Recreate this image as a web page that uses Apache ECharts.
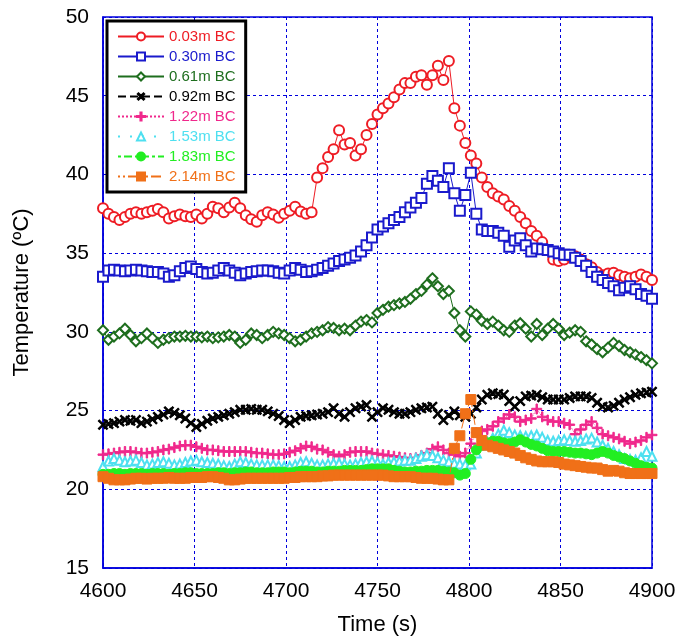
<!DOCTYPE html>
<html><head><meta charset="utf-8">
<script src="https://cdn.jsdelivr.net/npm/echarts@6/dist/echarts.min.js"></script>
<style>html,body{margin:0;padding:0;background:#fff}#c{width:679px;height:642px}</style>
</head><body><div id="c"></div>
<script>
// Sampling: every 3 s from 4600 s to 4900 s (101 samples)
const timeStart = 4600, timeStep = 3;
const xTicks = [4600, 4650, 4700, 4750, 4800, 4850, 4900];
const yTicks = [15, 20, 25, 30, 35, 40, 45, 50];
const seriesNames = ['0.03m BC','0.30m BC','0.61m BC','0.92m BC','1.22m BC','1.53m BC','1.83m BC','2.14m BC'];

const bc003 = [
 37.85,37.5,37.3,37.1,37.3,37.5,37.6,37.5,37.6,37.7,
 37.8,37.6,37.2,37.35,37.45,37.35,37.3,37.45,37.2,37.5,
 37.95,37.85,37.6,37.9,38.2,37.85,37.4,37.15,37.0,37.4,
 37.6,37.45,37.25,37.5,37.7,37.95,37.65,37.5,37.6,39.8,
 40.4,41.1,41.6,42.8,41.9,42.0,41.2,41.6,42.5,43.2,
 43.8,44.2,44.5,44.9,45.4,45.8,45.8,46.2,46.3,45.7,
 46.3,46.9,46.0,47.2,44.2,43.1,42.0,41.2,40.7,39.8,
 39.2,38.8,38.6,38.4,38.0,37.7,37.3,36.9,36.4,36.1,
 35.7,35.2,34.6,34.5,34.6,34.8,34.8,34.6,34.3,34.1,
 33.8,33.6,33.7,33.75,33.6,33.5,33.4,33.5,33.65,33.5,
 33.3];
const bc030 = [
 33.5,33.9,33.95,33.9,33.85,33.9,33.95,33.9,33.85,33.8,
 33.8,33.7,33.5,33.6,33.85,34.05,34.15,34.0,33.8,33.7,
 33.75,33.9,34.05,33.9,33.75,33.6,33.7,33.8,33.85,33.9,
 33.9,33.85,33.75,33.7,33.9,34.05,33.95,33.8,33.85,33.95,
 34.05,34.2,34.35,34.5,34.6,34.7,34.85,35.1,35.5,36.0,
 36.5,36.7,36.9,37.1,37.3,37.6,37.9,38.2,38.5,39.4,
 39.9,39.6,39.2,40.4,38.8,37.7,38.7,40.1,37.5,36.5,
 36.4,36.4,36.3,36.1,35.4,35.8,35.95,35.5,35.1,35.3,
 35.25,35.2,35.1,35.0,34.9,34.9,34.7,34.5,34.2,33.8,
 33.5,33.3,33.1,32.9,32.65,32.8,32.9,32.7,32.4,32.3,
 32.1];
const bc061 = [
 30.1,29.5,29.7,29.9,30.2,29.8,29.4,29.6,29.9,29.6,
 29.3,29.5,29.6,29.7,29.7,29.75,29.7,29.7,29.65,29.7,
 29.6,29.65,29.7,29.8,29.7,29.3,29.5,29.9,29.8,29.6,
 29.8,30.0,29.9,29.8,29.6,29.4,29.5,29.7,29.9,30.0,
 30.1,30.3,30.25,30.1,30.2,30.1,30.4,30.65,30.75,30.6,
 31.2,31.4,31.6,31.7,31.8,31.9,32.1,32.4,32.6,33.0,
 33.4,32.9,32.4,32.6,31.2,30.1,29.7,31.3,31.1,30.7,
 30.5,30.65,30.4,30.1,30.0,30.4,30.55,30.2,29.7,30.5,
 29.8,30.2,30.5,30.2,29.8,29.95,30.1,30.0,29.4,29.2,
 28.9,28.7,29.0,29.3,29.1,28.85,28.7,28.55,28.4,28.2,
 28.0];
const bc092 = [
 24.1,24.15,24.2,24.3,24.4,24.35,24.4,24.2,24.3,24.45,
 24.6,24.75,24.95,24.85,24.7,24.5,24.2,23.95,24.15,24.35,
 24.5,24.6,24.7,24.8,24.9,25.05,25.05,25.1,25.05,25.05,
 24.95,24.8,24.65,24.4,24.2,24.4,24.6,24.65,24.7,24.75,
 24.8,24.9,25.15,24.8,24.6,24.9,25.15,25.25,25.35,24.6,
 24.9,25.15,25.05,24.9,24.8,24.8,24.9,25.05,25.15,25.2,
 25.25,24.8,24.4,24.7,24.95,24.7,24.6,24.8,25.2,25.7,
 26.0,26.1,26.05,26.0,25.6,25.25,25.6,25.9,25.95,26.0,
 25.85,25.7,25.7,25.7,25.7,25.8,25.9,25.9,25.9,25.8,
 25.5,25.25,25.2,25.3,25.5,25.7,25.85,26.0,26.1,26.15,
 26.2];
const bc122 = [
 22.2,22.25,22.3,22.35,22.4,22.4,22.35,22.3,22.3,22.35,
 22.4,22.5,22.55,22.65,22.75,22.8,22.8,22.7,22.6,22.5,
 22.5,22.45,22.4,22.4,22.4,22.4,22.4,22.35,22.3,22.3,
 22.25,22.2,22.2,22.25,22.35,22.45,22.6,22.75,22.7,22.55,
 22.5,22.35,22.2,22.1,22.2,22.35,22.4,22.4,22.4,22.3,
 22.25,22.2,22.15,22.1,22.05,22.0,21.95,22.0,22.15,22.3,
 22.55,22.7,22.5,22.3,22.2,22.1,22.3,22.9,23.6,23.7,
 23.8,24.0,24.3,24.5,24.75,24.6,24.3,24.4,24.5,25.1,
 24.6,24.4,24.3,24.3,24.2,24.1,23.5,23.8,24.1,24.3,
 23.9,23.5,23.4,23.3,23.2,23.05,22.9,23.0,23.1,23.3,
 23.45];
const bc153 = [
 21.45,21.8,21.95,21.85,21.75,21.8,21.85,21.7,21.55,21.6,
 21.7,21.75,21.65,21.55,21.6,21.7,21.8,21.85,21.75,21.7,
 21.65,21.6,21.5,21.45,21.6,21.75,21.7,21.6,21.55,21.55,
 21.55,21.55,21.5,21.45,21.45,21.55,21.7,21.75,21.65,21.55,
 21.55,21.6,21.65,21.65,21.6,21.55,21.6,21.7,21.75,21.8,
 21.7,21.6,21.7,21.75,21.8,21.85,21.85,21.95,22.1,22.2,
 22.15,22.0,21.85,21.75,21.65,21.6,21.55,21.6,22.3,22.8,
 23.0,23.25,23.5,23.75,23.6,23.45,23.4,23.35,23.4,23.45,
 23.3,23.1,23.05,23.1,23.15,23.1,23.05,23.1,23.2,23.25,
 23.0,22.8,22.6,22.4,22.2,21.95,21.9,21.85,22.0,22.4,
 22.1];
const bc183 = [
 20.95,20.95,21.0,21.0,20.95,21.0,21.0,21.0,20.95,21.0,
 21.0,21.0,20.95,21.0,21.0,21.05,21.05,21.0,21.0,21.0,
 21.0,21.05,21.05,21.0,21.05,21.05,21.1,21.1,21.05,21.05,
 21.05,21.1,21.1,21.1,21.05,21.1,21.15,21.15,21.15,21.1,
 21.1,21.15,21.15,21.15,21.2,21.2,21.2,21.2,21.25,21.3,
 21.3,21.3,21.3,21.2,21.15,21.1,21.1,21.15,21.15,21.2,
 21.2,21.2,21.15,21.1,21.05,20.9,21.0,21.9,22.5,22.8,
 22.95,23.05,23.05,22.95,22.9,23.0,23.15,23.0,22.85,22.75,
 22.6,22.45,22.4,22.4,22.4,22.35,22.3,22.3,22.25,22.2,
 22.3,22.4,22.3,22.15,22.05,21.95,21.8,21.65,21.5,21.4,
 21.35];
const bc214 = [
 20.8,20.7,20.6,20.6,20.6,20.65,20.7,20.7,20.65,20.7,
 20.7,20.7,20.75,20.7,20.7,20.7,20.75,20.75,20.75,20.8,
 20.8,20.75,20.7,20.6,20.6,20.65,20.7,20.7,20.7,20.7,
 20.7,20.7,20.7,20.7,20.75,20.75,20.8,20.8,20.8,20.8,
 20.85,20.85,20.9,20.9,20.9,20.9,20.9,20.9,20.9,20.9,
 20.9,20.9,20.85,20.8,20.8,20.8,20.8,20.75,20.7,20.7,
 20.7,20.65,20.6,20.6,22.6,23.4,24.8,25.7,23.6,23.1,
 22.8,22.7,22.6,22.5,22.4,22.3,22.15,22.0,21.9,21.8,
 21.75,21.75,21.75,21.7,21.6,21.55,21.5,21.45,21.4,21.35,
 21.35,21.25,21.15,21.2,21.15,21.05,21.0,21.0,21.0,21.0,
 21.0];

const seriesValues = [bc003, bc030, bc061, bc092, bc122, bc153, bc183, bc214];
const colors = ['#ee1c24','#1a1acc','#1e6e1e','#000000','#f0288c','#4ee0f0','#22ee22','#f07018'];

const crossPath = 'path://M4.4,0H5.6V4.4H10V5.6H5.6V10H4.4V5.6H0V4.4H4.4Z';
const plusPath = 'path://M4.3,0H5.7V4.3H10V5.7H5.7V10H4.3V5.7H0V4.3H4.3Z';
const styles = [
  {symbol:'emptyCircle', size:10, line:'solid'},
  {symbol:'emptyRect', size:10, line:'solid'},
  {symbol:'emptyDiamond', size:10, line:'solid'},
  {symbol:crossPath, size:12, rotate:45, line:'dashed'},
  {symbol:plusPath, size:10, line:'dotted'},
  {symbol:'emptyTriangle', size:9, line:[2,10]},
  {symbol:'circle', size:10, line:[3,3,8,3]},
  {symbol:'rect', size:10, line:[2,3,2,3,10,3]}
];

function pairs(vals){
  const out = [];
  for (let i = 0; i < vals.length; i++) out.push([timeStart + i*timeStep, vals[i]]);
  return out;
}

const series = seriesNames.map((nm, i) => ({
  name: nm, type: 'line',
  data: pairs(seriesValues[i]),
  symbol: styles[i].symbol, symbolSize: styles[i].size,
  symbolRotate: styles[i].rotate || 0,
  showAllSymbol: true,
  color: colors[i],
  lineStyle: {color: colors[i], width: 1, type: styles[i].line},
  itemStyle: {color: colors[i], borderColor: colors[i], borderWidth: 1},
  animation: false,
  z: 2 + i
}));

const chart = echarts.init(document.getElementById('c'), null, {renderer:'canvas'});
const gridColor = '#0000dd';
const font = '"Liberation Sans", Arial, sans-serif';
chart.setOption({
  backgroundColor: '#fff',
  textStyle: {fontFamily: font},
  grid: {left: 103, right: 27, top: 17, bottom: 74, show: true, borderColor: gridColor, borderWidth: 1.5, backgroundColor: 'transparent'},
  legend: {
    orient: 'vertical', left: 107, top: 21,
    backgroundColor: '#fff', borderColor: '#000', borderWidth: 3,
    padding: [8, 10, 8, 10], itemGap: 5, itemWidth: 46, itemHeight: 10,
    textStyle: {fontSize: 15, fontFamily: font},
    data: seriesNames.map((nm, i) => ({name: nm, textStyle: {color: colors[i]}})),
    z: 20
  },
  xAxis: {
    type: 'value', min: xTicks[0], max: xTicks[xTicks.length-1], interval: 50,
    name: 'Time (s)', nameLocation: 'middle', nameGap: 46,
    nameTextStyle: {fontSize: 22, color: '#000', fontFamily: font},
    axisLine: {lineStyle: {color: gridColor, width: 1.5}},
    axisTick: {show: false},
    axisLabel: {fontSize: 21, color: '#000', margin: 13, formatter: v => String(v)},
    splitLine: {show: true, lineStyle: {color: gridColor, type: [3,3], width: 1}}
  },
  yAxis: {
    type: 'value', min: yTicks[0], max: yTicks[yTicks.length-1], interval: 5,
    name: 'Temperature (ºC)', nameLocation: 'middle', nameGap: 70,
    nameTextStyle: {fontSize: 22, color: '#000', fontFamily: font},
    axisLine: {lineStyle: {color: gridColor, width: 1.5}},
    axisTick: {show: false},
    axisLabel: {fontSize: 21, color: '#000', margin: 14, formatter: v => String(v)},
    splitLine: {show: true, lineStyle: {color: gridColor, type: [3,3], width: 1}}
  },
  series: series
});
</script></body></html>
